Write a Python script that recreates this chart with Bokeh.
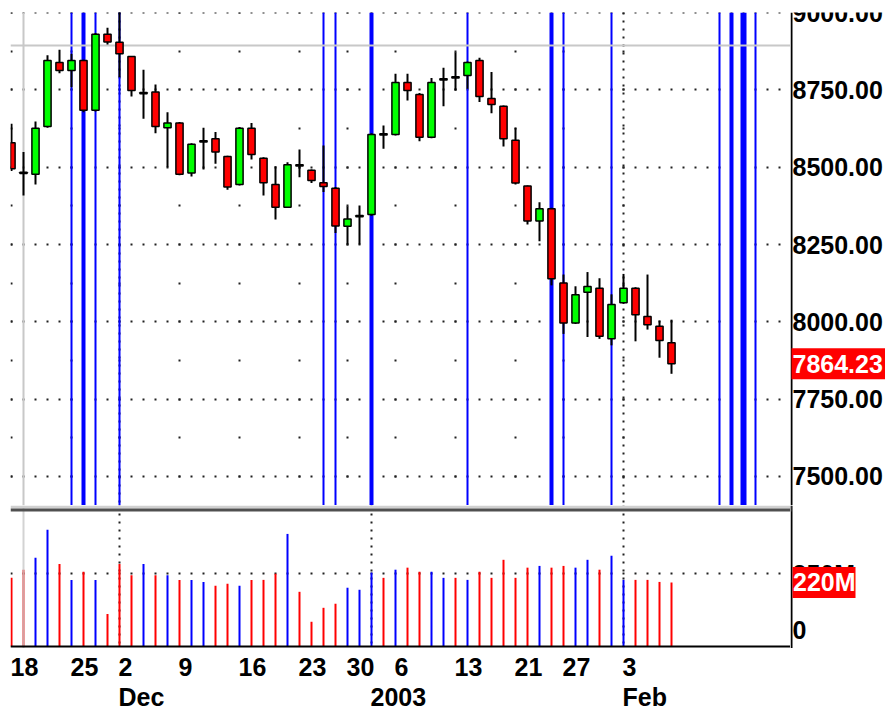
import pandas as pd
from bokeh.plotting import figure
from bokeh.models import Range1d, FixedTicker, BoxAnnotation, ColumnDataSource
from bokeh.layouts import column, row
from bokeh.core.properties import value
from bokeh.embed import file_html
from bokeh.resources import INLINE

# ---------------- data ----------------
holidays = ["2002-11-28", "2002-12-25", "2003-01-01", "2003-01-20"]
dates = [d for d in pd.bdate_range("2002-11-18", "2003-02-07")
         if d.strftime("%Y-%m-%d") not in holidays]

opens = [8579, 8484, 8477, 8632, 8839, 8813, 8845, 8684, 8930, 8904, 8858, 8738, 8743, 8628,
         8643, 8481, 8582, 8592, 8535, 8444, 8626, 8529, 8444, 8371, 8508, 8490, 8450, 8432,
         8309, 8340, 8347, 8608, 8606, 8774, 8735, 8597, 8782, 8793, 8797, 8845, 8722, 8697,
         8587, 8439, 8326, 8366, 8126, 7996, 8096, 8109, 7945, 8062, 8109, 8017, 7986, 7932]
highs = [8641, 8549, 8648, 8862, 8880, 8867, 8848, 8934, 8951, 9043, 8860, 8815, 8768, 8678,
         8646, 8578, 8628, 8614, 8537, 8630, 8643, 8532, 8503, 8516, 8557, 8493, 8570, 8436,
         8374, 8376, 8610, 8635, 8802, 8802, 8740, 8789, 8822, 8872, 8842, 8854, 8808, 8700,
         8628, 8441, 8387, 8369, 8153, 8115, 8161, 8141, 8089, 8155, 8112, 8153, 8004, 8007]
lows = [8488, 8409, 8444, 8628, 8804, 8759, 8678, 8680, 8897, 8791, 8729, 8657, 8610, 8500,
        8474, 8470, 8493, 8511, 8427, 8441, 8525, 8409, 8331, 8368, 8468, 8449, 8420, 8287,
        8250, 8250, 8343, 8560, 8603, 8716, 8584, 8594, 8697, 8748, 8754, 8711, 8675, 8567,
        8444, 8315, 8261, 8118, 7961, 7993, 7951, 7945, 7924, 8058, 7937, 7975, 7884, 7832]
closes = [8495, 8480, 8626, 8845, 8813, 8845, 8684, 8930, 8905, 8867, 8748, 8742, 8632, 8643,
          8477, 8574, 8586, 8549, 8436, 8626, 8541, 8450, 8371, 8508, 8504, 8457, 8438, 8310,
          8333, 8344, 8606, 8604, 8774, 8748, 8597, 8774, 8786, 8789, 8839, 8729, 8703, 8592,
          8449, 8326, 8366, 8139, 7996, 8088, 8114, 7953, 8056, 8109, 8023, 7991, 7940, 7864.23]
volumes_m = [236, 264, 305, 401, 284, 229, 257, 229, 112, 284, 245, 284, 245, 245, 229, 229,
             222, 209, 216, 209, 229, 229, 250, 387, 188, 85, 133, 147, 202, 195, 254, 236,
             264, 271, 257, 257, 236, 236, 229, 257, 236, 298, 236, 271, 277, 271, 277, 271,
             298, 264, 312, 229, 229, 229, 222, 220]

price_ticks = [7500, 7750, 8000, 8250, 8500, 8750, 9000]
vol_ticks_m = [0, 250]
vol_tick_labels = ["0", "250M"]

# vertical blue marker lines (bar index, thickness)
cycle_idx = [5, 6, 7, 9, 26, 27, 30, 38, 45, 46, 50, 59, 60, 61, 62]
cycle_width = [2, 4, 2, 2, 2, 2, 4, 2, 4, 2, 2, 2, 4, 6, 2]

cross_idx = 1
cross_price = 8894

# ---------------- derived ----------------
n = len(dates)
idx = list(range(n))
week_idx = [i for i in idx if i == 0 or dates[i].isocalendar()[1] != dates[i - 1].isocalendar()[1]]
week_text = [str(dates[i].day) for i in week_idx]
month_idx = [i for i in idx[1:] if dates[i].month != dates[i - 1].month]
month_text = [str(dates[i].year) if dates[i].month == 1 else dates[i].strftime("%b") for i in month_idx]

up = [c >= o for o, c in zip(opens, closes)]
src = ColumnDataSource(dict(
    x=idx, high=highs, low=lows,
    top=[max(o, c) for o, c in zip(opens, closes)],
    bottom=[min(o, c) for o, c in zip(opens, closes)],
    body=["#00FF00" if u else "#FF0000" for u in up],
    vol=[v * 1e6 for v in volumes_m],
    vcol=["#0000FF" if u else "#FF0000" for u in up],
))

FONT = value("Liberation Sans")
FS = "25px"
MAIN_W = 790
SIDE_W = 95
X_START = -1 / 12
xr = Range1d(X_START, X_START + 65)
TEXT = dict(text_font=FONT, text_font_style="bold", text_font_size=FS, text_baseline="middle",
            text_align="left")


def fig(**kw):
    base = dict(output_backend="svg", toolbar_location=None, tools="", outline_line_color=None,
                background_fill_color="white", border_fill_color="white",
                x_axis_location=None, y_axis_location=None,
                min_border_left=0, min_border_right=0, min_border_top=0, min_border_bottom=0)
    base.update(kw)
    return figure(**base)


# ---------------- price pane ----------------
p1 = fig(width=MAIN_W, height=505, x_range=xr, y_range=Range1d(7406, 9000.5),
         min_border_left=10, min_border_top=12)
p1.ygrid.ticker = FixedTicker(ticks=price_ticks)
p1.ygrid.grid_line_color = "#202020"
p1.ygrid.grid_line_width = 2
p1.ygrid.grid_line_dash = "2 10"
p1.xgrid.ticker = FixedTicker(ticks=week_idx)
p1.xgrid.grid_line_color = "#202020"
p1.xgrid.grid_line_width = 2
p1.xgrid.grid_line_dash = "2 37 2 36 2 37"
p1.xgrid.grid_line_dash_offset = 88

p1.vspan(x=month_idx, line_color="#202020", line_width=2, line_dash="2 6")
p1.vspan(x=cycle_idx, line_width=cycle_width, line_color="#0000FF")
p1.hspan(y=[cross_price], line_color="#C8C8C8", line_width=2)
p1.vspan(x=[cross_idx], line_color="#C8C8C8", line_width=2)
p1.segment(x0="x", y0="low", x1="x", y1="high", source=src, line_color="black", line_width=2)
p1.vbar(x="x", width=0.6, top="top", bottom="bottom", source=src, fill_color="body",
        line_color="black", line_width=1.5)

# price scale column (axis line, tick labels, last-close marker)
a1 = fig(width=SIDE_W, height=505, x_range=Range1d(0, SIDE_W), y_range=p1.y_range,
         min_border_top=12)
a1.grid.visible = False
a1.vspan(x=[1], line_color="black", line_width=2)
a1.text(x=2, y=price_ticks, text=[f"{t:.2f}" for t in price_ticks], text_color="black", **TEXT)
a1.rect(x=48, y=[closes[-1]], width=94, height=31, height_units="screen",
        fill_color="#FF0000", line_color=None)
a1.text(x=2, y=[closes[-1]], text=[f"{closes[-1]:.2f}"], text_color="white", **TEXT)

# ---------------- volume pane ----------------
VOL_END = 484.7e6
VOL_START = -6.9e6
ppv = 143 / (VOL_END - VOL_START)  # pixels per share
vyr = Range1d(VOL_START, VOL_END)

p2 = fig(width=MAIN_W, height=143, x_range=xr, y_range=vyr, min_border_left=10)
p2.xgrid.visible = False
p2.ygrid.ticker = FixedTicker(ticks=[v * 1e6 for v in vol_ticks_m[1:]])
p2.ygrid.grid_line_color = "#202020"
p2.ygrid.grid_line_width = 2
p2.ygrid.grid_line_dash = "2 10"

p2.vspan(x=month_idx, line_color="#202020", line_width=2, line_dash="2 6")
p2.segment(x0="x", y0=0, x1="x", y1="vol", source=src, line_color="vcol", line_width=2)
p2.vspan(x=[cross_idx], line_color="#C8C8C8", line_width=2, line_alpha=0.8)
p2.hspan(y=[0], line_color="black", line_width=2)
p2.add_layout(BoxAnnotation(bottom=VOL_END - 3 / ppv, top=VOL_END, fill_color="#D0D0D0",
                            fill_alpha=1, line_color=None))
p2.add_layout(BoxAnnotation(bottom=VOL_END - 6 / ppv, top=VOL_END - 3 / ppv,
                            fill_color="#505050", fill_alpha=1, line_color=None))

a2 = fig(width=SIDE_W, height=143, x_range=Range1d(0, SIDE_W), y_range=vyr)
a2.grid.visible = False
a2.add_layout(BoxAnnotation(bottom=VOL_END - 6 / ppv, top=VOL_END, right=1, fill_color="#505050",
                            fill_alpha=1, line_color=None))
a2.vspan(x=[1], line_color="black", line_width=2)
a2.text(x=2, y=[v * 1e6 for v in vol_ticks_m], y_offset=[-16, 0], text=vol_tick_labels,
        text_color="black", **TEXT)
a2.rect(x=33.5, y=[volumes_m[-1] * 1e6], width=63, height=31, height_units="screen",
        fill_color="#FF0000", line_color=None)
a2.text(x=2.5, y=[volumes_m[-1] * 1e6], text=[f"{volumes_m[-1]}M"], text_color="white", **TEXT)

# ---------------- date labels ----------------
p3 = fig(width=MAIN_W + SIDE_W, height=61, x_range=xr, y_range=Range1d(0, 61),
         min_border_left=10, min_border_right=SIDE_W)
p3.grid.visible = False
p3.text(x=week_idx, y=43, text=week_text, x_offset=-1, text_color="black", **TEXT)
p3.text(x=month_idx, y=13, text=month_text, x_offset=-1, text_color="black", **TEXT)

layout = column(row(p1, a1), row(p2, a2), p3)
open("out.html", "w").write(file_html(layout, INLINE))
